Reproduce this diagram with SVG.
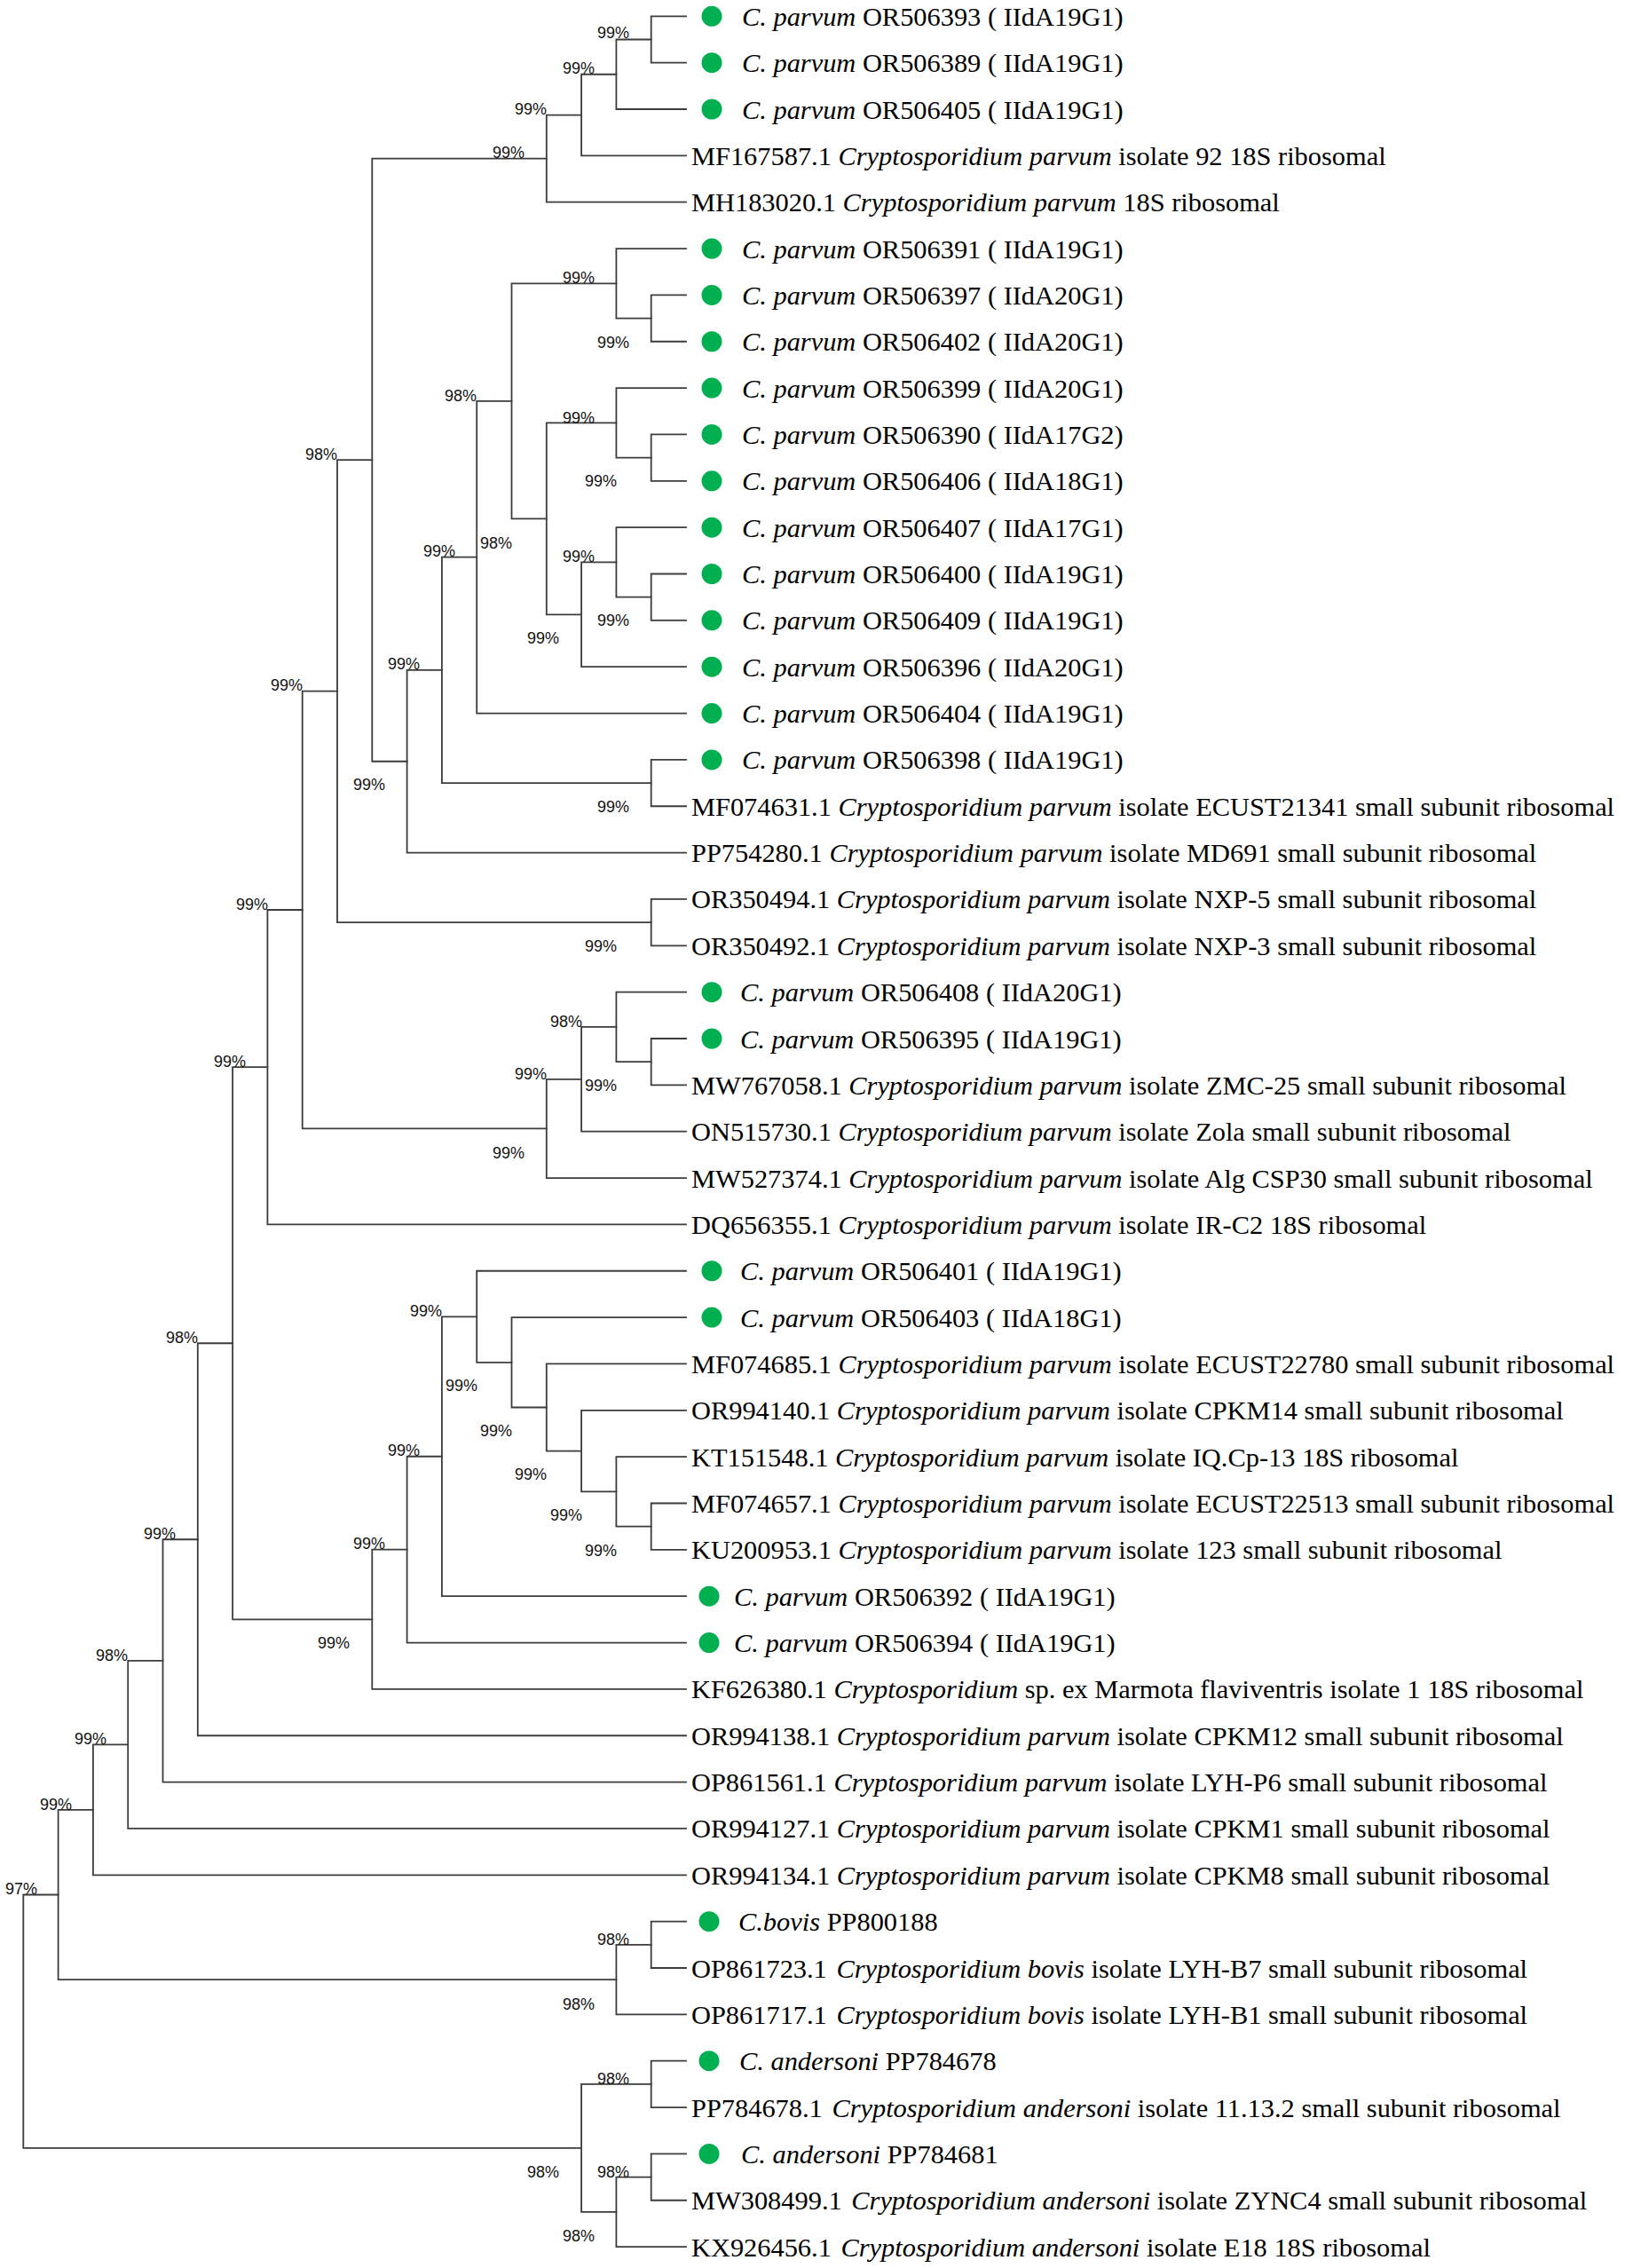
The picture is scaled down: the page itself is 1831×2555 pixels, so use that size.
<svg xmlns="http://www.w3.org/2000/svg" width="1831" height="2555" viewBox="0 0 1831 2555">
<style>
.br{fill:none;stroke:#3c3c3c;stroke-width:1.8;stroke-linecap:square}
.lf{font-family:"Liberation Serif","Times New Roman",serif;font-size:30.4px;fill:#000}
.i{font-style:italic}
.bs{font-family:"Liberation Sans",Arial,sans-serif;font-size:18px;fill:#111;text-anchor:end}
.dot{fill:#00b050}
</style>
<rect width="1831" height="2555" fill="#fff"/>
<g id="connectors">
<path class="br" d="M773,18.3 H733.7 V70.65 H773"/>
<path class="br" d="M733.7,44.5 H694.4 V123 H773"/>
<path class="br" d="M694.4,83.75 H655.1 V175.35 H773"/>
<path class="br" d="M655.1,129.55 H615.8 V227.7 H773"/>
<path class="br" d="M773,332.4 H733.7 V384.75 H773"/>
<path class="br" d="M773,280.05 H694.4 V358.6 H733.7"/>
<path class="br" d="M773,489.45 H733.7 V541.8 H773"/>
<path class="br" d="M773,437.1 H694.4 V515.6 H733.7"/>
<path class="br" d="M773,646.5 H733.7 V698.85 H773"/>
<path class="br" d="M773,594.15 H694.4 V672.7 H733.7"/>
<path class="br" d="M694.4,633.4 H655.1 V751.2 H773"/>
<path class="br" d="M694.4,476.4 H615.8 V692.3 H655.1"/>
<path class="br" d="M694.4,319.3 H576.5 V584.35 H615.8"/>
<path class="br" d="M576.5,451.8 H537.2 V803.55 H773"/>
<path class="br" d="M773,855.9 H733.7 V908.25 H773"/>
<path class="br" d="M537.2,627.7 H497.9 V882.1 H733.7"/>
<path class="br" d="M497.9,754.9 H458.6 V960.6 H773"/>
<path class="br" d="M615.8,178.6 H419.3 V857.75 H458.6"/>
<path class="br" d="M773,1012.95 H733.7 V1065.3 H773"/>
<path class="br" d="M419.3,518.2 H380 V1039.1 H733.7"/>
<path class="br" d="M773,1170 H733.7 V1222.35 H773"/>
<path class="br" d="M773,1117.65 H694.4 V1196.2 H733.7"/>
<path class="br" d="M694.4,1156.9 H655.1 V1274.7 H773"/>
<path class="br" d="M655.1,1215.8 H615.8 V1327.05 H773"/>
<path class="br" d="M380,778.65 H340.7 V1271.4 H615.8"/>
<path class="br" d="M340.7,1025 H301.4 V1379.4 H773"/>
<path class="br" d="M773,1693.5 H733.7 V1745.85 H773"/>
<path class="br" d="M773,1641.15 H694.4 V1719.7 H733.7"/>
<path class="br" d="M773,1588.8 H655.1 V1680.4 H694.4"/>
<path class="br" d="M773,1536.45 H615.8 V1634.6 H655.1"/>
<path class="br" d="M773,1484.1 H576.5 V1585.5 H615.8"/>
<path class="br" d="M773,1431.75 H537.2 V1534.8 H576.5"/>
<path class="br" d="M537.2,1483.3 H497.9 V1798.2 H773"/>
<path class="br" d="M497.9,1640.75 H458.6 V1850.55 H773"/>
<path class="br" d="M458.6,1745.65 H419.3 V1902.9 H773"/>
<path class="br" d="M301.4,1202.2 H262.1 V1824.3 H419.3"/>
<path class="br" d="M262.1,1513.25 H222.8 V1955.25 H773"/>
<path class="br" d="M222.8,1734.25 H183.5 V2007.6 H773"/>
<path class="br" d="M183.5,1870.9 H144.2 V2059.95 H773"/>
<path class="br" d="M144.2,1965.4 H104.9 V2112.3 H773"/>
<path class="br" d="M773,2164.65 H733.7 V2217 H773"/>
<path class="br" d="M733.7,2190.8 H694.4 V2269.35 H773"/>
<path class="br" d="M104.9,2038.85 H65.6 V2230.1 H694.4"/>
<path class="br" d="M773,2321.7 H733.7 V2374.05 H773"/>
<path class="br" d="M773,2426.4 H733.7 V2478.75 H773"/>
<path class="br" d="M733.7,2452.6 H694.4 V2531.1 H773"/>
<path class="br" d="M733.7,2347.9 H655.1 V2491.85 H694.4"/>
<path class="br" d="M65.6,2134.5 H26.3 V2419.9 H655.1"/>
</g>
<g id="bootstrap">
<text class="bs" x="709" y="43.2">99%</text>
<text class="bs" x="670" y="83.2">99%</text>
<text class="bs" x="616" y="129.2">99%</text>
<text class="bs" x="591" y="178.2">99%</text>
<text class="bs" x="670" y="319.2">99%</text>
<text class="bs" x="709" y="391.5">99%</text>
<text class="bs" x="537" y="451.5">98%</text>
<text class="bs" x="670" y="476.5">99%</text>
<text class="bs" x="380" y="518.2">98%</text>
<text class="bs" x="695" y="548.2">99%</text>
<text class="bs" x="577" y="618.2">98%</text>
<text class="bs" x="513" y="627.2">99%</text>
<text class="bs" x="670" y="633.2">99%</text>
<text class="bs" x="709" y="704.8">99%</text>
<text class="bs" x="630" y="724.8">99%</text>
<text class="bs" x="473" y="754.2">99%</text>
<text class="bs" x="341" y="778.2">99%</text>
<text class="bs" x="434" y="889.8">99%</text>
<text class="bs" x="709" y="914.8">99%</text>
<text class="bs" x="302" y="1024.8">99%</text>
<text class="bs" x="695" y="1071.5">99%</text>
<text class="bs" x="656" y="1156.5">98%</text>
<text class="bs" x="277" y="1201.5">99%</text>
<text class="bs" x="616" y="1215.5">99%</text>
<text class="bs" x="695" y="1228.5">99%</text>
<text class="bs" x="591" y="1304.5">99%</text>
<text class="bs" x="498" y="1483.2">99%</text>
<text class="bs" x="223" y="1513.2">98%</text>
<text class="bs" x="538" y="1567.2">99%</text>
<text class="bs" x="577" y="1618.2">99%</text>
<text class="bs" x="473" y="1639.5">99%</text>
<text class="bs" x="616" y="1667.2">99%</text>
<text class="bs" x="656" y="1713.2">99%</text>
<text class="bs" x="198" y="1733.5">99%</text>
<text class="bs" x="434" y="1744.5">99%</text>
<text class="bs" x="695" y="1752.5">99%</text>
<text class="bs" x="394" y="1856.5">99%</text>
<text class="bs" x="144" y="1870.5">98%</text>
<text class="bs" x="120" y="1964.5">99%</text>
<text class="bs" x="81" y="2038.8">99%</text>
<text class="bs" x="42" y="2133.5">97%</text>
<text class="bs" x="709" y="2190.8">98%</text>
<text class="bs" x="670" y="2263.8">98%</text>
<text class="bs" x="709" y="2348.2">98%</text>
<text class="bs" x="630" y="2452.5">98%</text>
<text class="bs" x="709" y="2452.5">98%</text>
<text class="bs" x="670" y="2524.8">98%</text>
</g>
<g id="leaf-0"><circle class="dot" cx="802" cy="18.3" r="11.5"/><text class="lf" x="836" y="28.8"><tspan class="i">C. parvum</tspan> OR506393 ( IIdA19G1)</text></g>
<g id="leaf-1"><circle class="dot" cx="802" cy="70.65" r="11.5"/><text class="lf" x="836" y="81.15"><tspan class="i">C. parvum</tspan> OR506389 ( IIdA19G1)</text></g>
<g id="leaf-2"><circle class="dot" cx="802" cy="123" r="11.5"/><text class="lf" x="836" y="133.5"><tspan class="i">C. parvum</tspan> OR506405 ( IIdA19G1)</text></g>
<g id="leaf-3"><text class="lf" x="779" y="185.85">MF167587.1 <tspan class="i">Cryptosporidium parvum</tspan> isolate 92 18S ribosomal</text></g>
<g id="leaf-4"><text class="lf" x="779" y="238.2">MH183020.1 <tspan class="i">Cryptosporidium parvum</tspan> 18S ribosomal</text></g>
<g id="leaf-5"><circle class="dot" cx="802" cy="280.05" r="11.5"/><text class="lf" x="836" y="290.55"><tspan class="i">C. parvum</tspan> OR506391 ( IIdA19G1)</text></g>
<g id="leaf-6"><circle class="dot" cx="802" cy="332.4" r="11.5"/><text class="lf" x="836" y="342.9"><tspan class="i">C. parvum</tspan> OR506397 ( IIdA20G1)</text></g>
<g id="leaf-7"><circle class="dot" cx="802" cy="384.75" r="11.5"/><text class="lf" x="836" y="395.25"><tspan class="i">C. parvum</tspan> OR506402 ( IIdA20G1)</text></g>
<g id="leaf-8"><circle class="dot" cx="802" cy="437.1" r="11.5"/><text class="lf" x="836" y="447.6"><tspan class="i">C. parvum</tspan> OR506399 ( IIdA20G1)</text></g>
<g id="leaf-9"><circle class="dot" cx="802" cy="489.45" r="11.5"/><text class="lf" x="836" y="499.95"><tspan class="i">C. parvum</tspan> OR506390 ( IIdA17G2)</text></g>
<g id="leaf-10"><circle class="dot" cx="802" cy="541.8" r="11.5"/><text class="lf" x="836" y="552.3"><tspan class="i">C. parvum</tspan> OR506406 ( IIdA18G1)</text></g>
<g id="leaf-11"><circle class="dot" cx="802" cy="594.15" r="11.5"/><text class="lf" x="836" y="604.65"><tspan class="i">C. parvum</tspan> OR506407 ( IIdA17G1)</text></g>
<g id="leaf-12"><circle class="dot" cx="802" cy="646.5" r="11.5"/><text class="lf" x="836" y="657"><tspan class="i">C. parvum</tspan> OR506400 ( IIdA19G1)</text></g>
<g id="leaf-13"><circle class="dot" cx="802" cy="698.85" r="11.5"/><text class="lf" x="836" y="709.35"><tspan class="i">C. parvum</tspan> OR506409 ( IIdA19G1)</text></g>
<g id="leaf-14"><circle class="dot" cx="802" cy="751.2" r="11.5"/><text class="lf" x="836" y="761.7"><tspan class="i">C. parvum</tspan> OR506396 ( IIdA20G1)</text></g>
<g id="leaf-15"><circle class="dot" cx="802" cy="803.55" r="11.5"/><text class="lf" x="836" y="814.05"><tspan class="i">C. parvum</tspan> OR506404 ( IIdA19G1)</text></g>
<g id="leaf-16"><circle class="dot" cx="802" cy="855.9" r="11.5"/><text class="lf" x="836" y="866.4"><tspan class="i">C. parvum</tspan> OR506398 ( IIdA19G1)</text></g>
<g id="leaf-17"><text class="lf" x="779" y="918.75">MF074631.1 <tspan class="i">Cryptosporidium parvum</tspan> isolate ECUST21341 small subunit ribosomal</text></g>
<g id="leaf-18"><text class="lf" x="779" y="971.1">PP754280.1 <tspan class="i">Cryptosporidium parvum</tspan> isolate MD691 small subunit ribosomal</text></g>
<g id="leaf-19"><text class="lf" x="779" y="1023.45">OR350494.1 <tspan class="i">Cryptosporidium parvum</tspan> isolate NXP-5 small subunit ribosomal</text></g>
<g id="leaf-20"><text class="lf" x="779" y="1075.8">OR350492.1 <tspan class="i">Cryptosporidium parvum</tspan> isolate NXP-3 small subunit ribosomal</text></g>
<g id="leaf-21"><circle class="dot" cx="802" cy="1117.65" r="11.5"/><text class="lf" x="834" y="1128.15"><tspan class="i">C. parvum</tspan> OR506408 ( IIdA20G1)</text></g>
<g id="leaf-22"><circle class="dot" cx="802" cy="1170" r="11.5"/><text class="lf" x="834" y="1180.5"><tspan class="i">C. parvum</tspan> OR506395 ( IIdA19G1)</text></g>
<g id="leaf-23"><text class="lf" x="779" y="1232.85">MW767058.1 <tspan class="i">Cryptosporidium parvum</tspan> isolate ZMC-25 small subunit ribosomal</text></g>
<g id="leaf-24"><text class="lf" x="779" y="1285.2">ON515730.1 <tspan class="i">Cryptosporidium parvum</tspan> isolate Zola small subunit ribosomal</text></g>
<g id="leaf-25"><text class="lf" x="779" y="1337.55">MW527374.1 <tspan class="i">Cryptosporidium parvum</tspan> isolate Alg CSP30 small subunit ribosomal</text></g>
<g id="leaf-26"><text class="lf" x="779" y="1389.9">DQ656355.1 <tspan class="i">Cryptosporidium parvum</tspan> isolate IR-C2 18S ribosomal</text></g>
<g id="leaf-27"><circle class="dot" cx="802" cy="1431.75" r="11.5"/><text class="lf" x="834" y="1442.25"><tspan class="i">C. parvum</tspan> OR506401 ( IIdA19G1)</text></g>
<g id="leaf-28"><circle class="dot" cx="802" cy="1484.1" r="11.5"/><text class="lf" x="834" y="1494.6"><tspan class="i">C. parvum</tspan> OR506403 ( IIdA18G1)</text></g>
<g id="leaf-29"><text class="lf" x="779" y="1546.95">MF074685.1 <tspan class="i">Cryptosporidium parvum</tspan> isolate ECUST22780 small subunit ribosomal</text></g>
<g id="leaf-30"><text class="lf" x="779" y="1599.3">OR994140.1 <tspan class="i">Cryptosporidium parvum</tspan> isolate CPKM14 small subunit ribosomal</text></g>
<g id="leaf-31"><text class="lf" x="779" y="1651.65">KT151548.1 <tspan class="i">Cryptosporidium parvum</tspan> isolate IQ.Cp-13 18S ribosomal</text></g>
<g id="leaf-32"><text class="lf" x="779" y="1704">MF074657.1 <tspan class="i">Cryptosporidium parvum</tspan> isolate ECUST22513 small subunit ribosomal</text></g>
<g id="leaf-33"><text class="lf" x="779" y="1756.35">KU200953.1 <tspan class="i">Cryptosporidium parvum</tspan> isolate 123 small subunit ribosomal</text></g>
<g id="leaf-34"><circle class="dot" cx="799" cy="1798.2" r="11.5"/><text class="lf" x="827" y="1808.7"><tspan class="i">C. parvum</tspan> OR506392 ( IIdA19G1)</text></g>
<g id="leaf-35"><circle class="dot" cx="799" cy="1850.55" r="11.5"/><text class="lf" x="827" y="1861.05"><tspan class="i">C. parvum</tspan> OR506394 ( IIdA19G1)</text></g>
<g id="leaf-36"><text class="lf" x="779" y="1913.4">KF626380.1 <tspan class="i">Cryptosporidium</tspan> sp. ex Marmota flaviventris isolate 1 18S ribosomal</text></g>
<g id="leaf-37"><text class="lf" x="779" y="1965.75">OR994138.1 <tspan class="i">Cryptosporidium parvum</tspan> isolate CPKM12 small subunit ribosomal</text></g>
<g id="leaf-38"><text class="lf" x="779" y="2018.1">OP861561.1 <tspan class="i">Cryptosporidium parvum</tspan> isolate LYH-P6 small subunit ribosomal</text></g>
<g id="leaf-39"><text class="lf" x="779" y="2070.45">OR994127.1 <tspan class="i">Cryptosporidium parvum</tspan> isolate CPKM1 small subunit ribosomal</text></g>
<g id="leaf-40"><text class="lf" x="779" y="2122.8">OR994134.1 <tspan class="i">Cryptosporidium parvum</tspan> isolate CPKM8 small subunit ribosomal</text></g>
<g id="leaf-41"><circle class="dot" cx="799" cy="2164.65" r="11.5"/><text class="lf" x="832" y="2175.15"><tspan class="i">C.bovis</tspan> PP800188</text></g>
<g id="leaf-42"><text class="lf" x="779" y="2227.5">OP861723.1 <tspan class="i" dx="3">Cryptosporidium bovis</tspan> isolate LYH-B7 small subunit ribosomal</text></g>
<g id="leaf-43"><text class="lf" x="779" y="2279.85">OP861717.1 <tspan class="i" dx="3">Cryptosporidium bovis</tspan> isolate LYH-B1 small subunit ribosomal</text></g>
<g id="leaf-44"><circle class="dot" cx="799" cy="2321.7" r="11.5"/><text class="lf" x="833" y="2332.2"><tspan class="i">C. andersoni</tspan> PP784678</text></g>
<g id="leaf-45"><text class="lf" x="779" y="2384.55">PP784678.1 <tspan class="i" dx="3">Cryptosporidium andersoni</tspan> isolate 11.13.2 small subunit ribosomal</text></g>
<g id="leaf-46"><circle class="dot" cx="799" cy="2426.4" r="11.5"/><text class="lf" x="835" y="2436.9"><tspan class="i">C. andersoni</tspan> PP784681</text></g>
<g id="leaf-47"><text class="lf" x="779" y="2489.25">MW308499.1 <tspan class="i" dx="3">Cryptosporidium andersoni</tspan> isolate ZYNC4 small subunit ribosomal</text></g>
<g id="leaf-48"><text class="lf" x="779" y="2541.6">KX926456.1 <tspan class="i" dx="3">Cryptosporidium andersoni</tspan> isolate E18 18S ribosomal</text></g>
</svg>
